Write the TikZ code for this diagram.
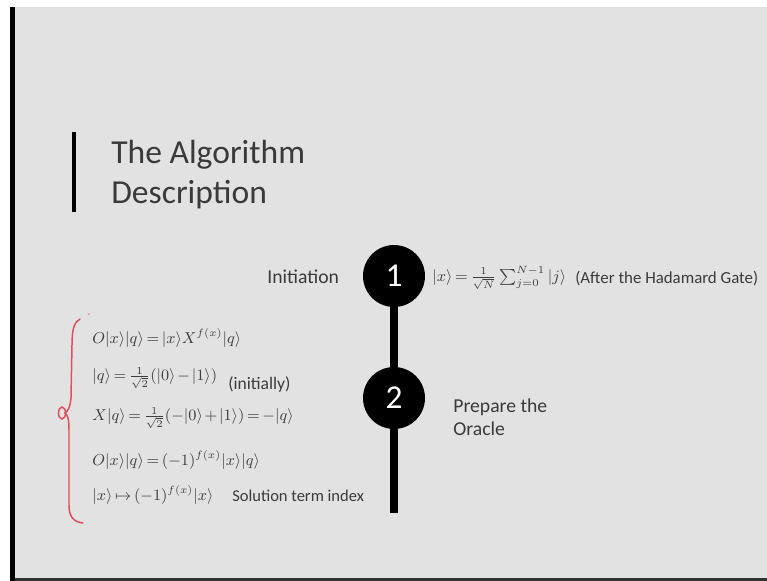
\documentclass[tikz,border=0pt]{standalone}
\usepackage{amsmath}
\usepackage{fontspec}
\setmainfont{Carlito}
\usetikzlibrary{positioning}
\definecolor{slidebg}{HTML}{E2E2E2}
\definecolor{slidetext}{HTML}{3A3A3A}
\definecolor{mathtext}{HTML}{3E3E3E}
\definecolor{penred}{HTML}{E0505C}
\AtBeginDocument{\thickmuskip=3mu plus 2mu\relax \medmuskip=2mu plus 1mu\relax}

\begin{document}
\begin{tikzpicture}[x=0.02cm, y=-0.02cm,
        heading/.style={anchor=base west, inner sep=0pt, text=slidetext,
                        font=\fontsize{19.1}{22}\selectfont},
        caption/.style={anchor=base west, inner sep=0pt, text=slidetext,
                        font=\fontsize{11.2}{13}\selectfont},
        eqn/.style={anchor=west, inner sep=0pt, text=mathtext,
                    font=\fontsize{8.7}{10}\selectfont},
        stepdot/.style={circle, fill=black, text=white, inner sep=0pt,
                        minimum size=1.24cm, font=\fontsize{19}{20}\selectfont}
      ]
        \useasboundingbox (0,0) rectangle (767,581);
        % slide frame
        \fill[white] (0,0) rectangle (767,581);
        \fill[slidebg] (15,7) rectangle (767,578);
        \fill[black] (10,7) rectangle (15,581);
        \fill[black!80] (15,578) rectangle (767,581);

        % title
        \fill[black] (72,132) rectangle (76,212);
        \node[heading] (title) at (111,163) {The Algorithm};
        \node[heading] (title2) at (111,203) {Description};

        % timeline
        \node[stepdot] (s1) at (394,276) {1};
        \node[stepdot] (s2) at (394,398) {2};
        \coordinate (tlend) at (394,513);
        \draw[line width=4.5pt] (s1) -- (s2);
        \draw[line width=4.5pt] (s2) -- (tlend);

        \node[caption] (init) at (267,283) {Initiation};
        \node[eqn] (initeq) at (432,278) {$|x\rangle = \frac{1}{\sqrt{N}}\sum_{j=0}^{N-1}|j\rangle$};
        \node[caption, font=\fontsize{9.6}{12}\selectfont] (hadamard) at (575,283) {(After the Hadamard Gate)};
        \node[caption] (prep) at (453,412) {Prepare the};
        \node[caption] (prep2) at (453,435) {Oracle};

        % oracle equations
        \node[eqn] (eq1) at (92,338) {$O|x\rangle|q\rangle = |x\rangle X^{f(x)}|q\rangle$};
        \node[eqn] (eq2) at (92,378) {$|q\rangle = \frac{1}{\sqrt{2}}(|0\rangle - |1\rangle)$};
        \node[caption, font=\fontsize{10}{12}\selectfont] (initially) at (228,389) {(initially)};
        \node[eqn] (eq3) at (92,418) {$X|q\rangle = \frac{1}{\sqrt{2}}(-|0\rangle + |1\rangle) = -|q\rangle$};
        \node[eqn] (eq4) at (92,460) {$O|x\rangle|q\rangle = (-1)^{f(x)}|x\rangle|q\rangle$};
        \node[eqn] (eq5) at (92,495) {$|x\rangle \mapsto (-1)^{f(x)}|x\rangle$};
        \node[caption, font=\fontsize{9.4}{11}\selectfont] (soln) at (232,501) {Solution term index};

        % red pen marks
        \draw[penred, line width=0.85pt, line cap=round]
          (80,319) .. controls (74,322) and (72,330) .. (72,345)
          -- (71,398) .. controls (70,408) and (68,411) .. (65,413)
          .. controls (68,415) and (69,420) .. (69,430)
          -- (69,505) .. controls (69,516) and (73,522) .. (83,523);
        \draw[penred, line width=0.85pt] (62,413) ellipse [x radius=0.07cm, y radius=0.12cm];
        \fill[penred!70] (89,314) circle [radius=0.02cm];
      \end{tikzpicture}
\end{document}
